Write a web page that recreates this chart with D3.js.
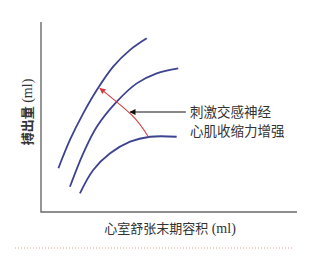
<!DOCTYPE html>
<html lang="zh">
<head>
<meta charset="UTF-8">
<title>搏出量 - 心室舒张末期容积</title>
<script src="https://d3js.org/d3.v7.min.js"></script>
<style>
    body { margin: 0; background: #fff; }
    svg text { font-family: "Noto Sans CJK SC", "Noto Sans", sans-serif; fill: #333; }
    svg tspan.unit { font-family: "Liberation Serif", serif; }
</style>
</head>
<body>
<svg id="chart" width="327" height="256"></svg>
<script>
    // curve data (arbitrary units)
    const curveHigh = [[6.8, 23.0], [11.3, 37.9], [16.5, 51.9], [21.8, 64.2], [28.2, 76.5], [34.8, 85.3], [41.3, 91.4]];
    const curveMid = [[11.3, 13.3], [16.5, 30.9], [21.8, 44.9], [29.6, 58.1], [37.4, 67.7], [45.2, 73.0], [53.6, 75.6]];
    const curveLow = [[15.2, 9.8], [20.4, 22.1], [27.0, 30.9], [34.8, 37.0], [42.6, 39.6], [53.0, 39.6]];
    const shiftArrow = [[41.9, 39.6], [35.6, 50.8], [23.0, 65.1]];
    const pointerArrow = [[56.6, 52.6], [34.8, 52.6]];
    const noteLines = ["刺激交感神经", "心肌收缩力增强"];
    const xLabel = ["心室舒张末期容积", " (ml)"];
    const yLabel = ["搏出量", " (ml)"];

    const svg = d3.select("#chart");
    const margin = { top: 22, right: 30, bottom: 44, left: 41 };
    const width = +svg.attr("width");
    const height = +svg.attr("height");

    const x = d3.scaleLinear().domain([0, 100]).range([margin.left, width - margin.right]);
    const y = d3.scaleLinear().domain([0, 100]).range([height - margin.bottom, margin.top]);

    const defs = svg.append("defs");
    defs.append("marker")
        .attr("id", "redHead")
        .attr("viewBox", "0 0 10 10")
        .attr("refX", 9).attr("refY", 5)
        .attr("markerWidth", 7).attr("markerHeight", 6)
        .attr("markerUnits", "userSpaceOnUse")
        .attr("orient", "auto")
        .append("path").attr("d", "M0,0 L10,5 L0,10 Z").attr("fill", "#d23c3c");
    defs.append("marker")
        .attr("id", "blackHead")
        .attr("viewBox", "0 0 10 10")
        .attr("refX", 9).attr("refY", 5)
        .attr("markerWidth", 10).attr("markerHeight", 6)
        .attr("markerUnits", "userSpaceOnUse")
        .attr("orient", "auto")
        .append("path").attr("d", "M0,0 L10,5 L0,10 Z").attr("fill", "#111");

    // axes (no ticks)
    svg.append("path")
        .attr("d", `M${x(0)},${y(100)} L${x(0)},${y(0)} L${x(100)},${y(0)}`)
        .attr("fill", "none")
        .attr("stroke", "#6a6a6a")
        .attr("stroke-width", 1.4);

    const line = d3.line().x(d => x(d[0])).y(d => y(d[1])).curve(d3.curveCatmullRom);

    svg.selectAll(".curve")
        .data([curveHigh, curveMid, curveLow])
        .enter()
        .append("path")
        .attr("class", "curve")
        .attr("d", line)
        .attr("fill", "none")
        .attr("stroke", "#3d4391")
        .attr("stroke-width", 1.8);

    svg.append("path")
        .attr("d", d3.line().x(d => x(d[0])).y(d => y(d[1])).curve(d3.curveNatural)(shiftArrow))
        .attr("fill", "none")
        .attr("stroke", "#d23c3c")
        .attr("stroke-width", 1.1)
        .attr("marker-end", "url(#redHead)");

    svg.append("path")
        .attr("d", d3.line().x(d => x(d[0])).y(d => y(d[1]))(pointerArrow))
        .attr("stroke", "#111")
        .attr("stroke-width", 1.1)
        .attr("marker-end", "url(#blackHead)");

    svg.selectAll(".note")
        .data(noteLines)
        .enter()
        .append("text")
        .attr("class", "note")
        .attr("x", x(58.2))
        .attr("y", (d, i) => y(52.6) + i * 19)
        .attr("dy", "0.35em")
        .style("font-size", "13.5px")
        .text(d => d);

    const xl = svg.append("text")
        .attr("x", 170)
        .attr("y", 228)
        .attr("dy", "0.35em")
        .attr("text-anchor", "middle")
        .style("font-size", "13px");
    xl.append("tspan").text(xLabel[0]);
    xl.append("tspan").attr("class", "unit").style("font-size", "14px").text(xLabel[1]);

    const yl = svg.append("text")
        .attr("transform", `translate(27,112)rotate(-90)`)
        .attr("dy", "0.35em")
        .attr("text-anchor", "middle")
        .style("font-size", "13px")
        .style("font-weight", "bold");
    yl.append("tspan").text(yLabel[0]);
    yl.append("tspan").attr("class", "unit").style("font-weight", "normal").style("font-size", "14px").text(yLabel[1]);

    // dotted separator below the figure
    svg.append("line")
        .attr("x1", 15).attr("x2", 293)
        .attr("y1", 248).attr("y2", 248)
        .attr("stroke", "#d9a090")
        .attr("stroke-width", 1)
        .attr("stroke-dasharray", "1,2");
</script>
</body>
</html>
